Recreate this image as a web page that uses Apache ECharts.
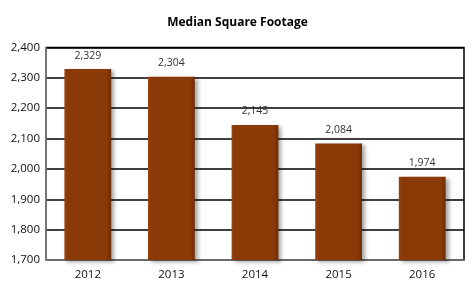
<!DOCTYPE html>
<html><head><meta charset="utf-8">
<script src="https://cdn.jsdelivr.net/npm/echarts@6/dist/echarts.min.js"></script>
<style>html,body{margin:0;padding:0;background:#fff}#c{width:475px;height:291px}</style>
</head><body><div id="c"></div>
<script>
var categories = ['2012','2013','2014','2015','2016'];
var values = [2329, 2304, 2145, 2084, 1974];
var yTicks = [1700, 2400, 100];
var chart = echarts.init(document.getElementById('c'));
chart.setOption({
  animation:false,
  title:{text:'Median Square Footage',left:'center',top:12,textStyle:{fontFamily:'Open Sans',fontWeight:'bold',fontSize:12,color:'#000'}},
  grid:{left:46,right:11,top:47.5,bottom:31,containLabel:false,show:true,borderColor:'#000',borderWidth:1.5},
  xAxis:{type:'category',data:categories,
    axisLine:{show:true,lineStyle:{color:'#888',width:1.5}},axisTick:{show:false},
    axisLabel:{fontFamily:'Open Sans',fontSize:11.5,color:'#111',margin:9}},
  yAxis:{type:'value',min:yTicks[0],max:yTicks[1],interval:yTicks[2],
    axisLine:{show:true,lineStyle:{color:'#888',width:1.5}},axisTick:{show:false},
    splitLine:{lineStyle:{color:'#000',width:1.5}},
    axisLabel:{fontFamily:'Open Sans',fontSize:11.5,color:'#111',margin:6,
      formatter:function(v){return v.toLocaleString('en-US');}}},
  series:[{type:'bar',data:values,barWidth:'56%',
    itemStyle:{
      color:new echarts.graphic.LinearGradient(0,0,1,0,[
        {offset:0,color:'#9a4812'},{offset:0.06,color:'#8a3a08'},{offset:0.9,color:'#8a3a06'},{offset:1,color:'#6e2c04'}]),
      borderColor:'#a65522',borderWidth:0,
      shadowColor:'rgba(0,0,0,0.35)',shadowBlur:4,shadowOffsetX:3,shadowOffsetY:2},
    label:{show:true,position:'top',distance:8,fontFamily:'Open Sans',fontSize:10.5,color:'#333',
      formatter:function(p){return p.value.toLocaleString('en-US');}}
  }]
});
</script></body></html>
